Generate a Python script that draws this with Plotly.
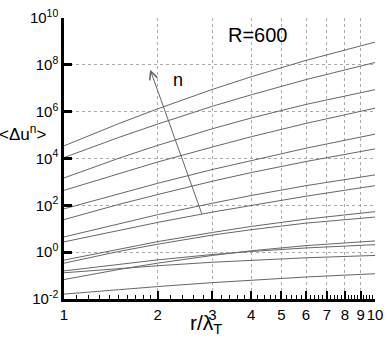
### Momentos de las diferencias de velocidad <Δu^n> frente a r/λ_T (R=600) ###

import plotly.graph_objects as go

# Valores de r/λ_T donde se leen las curvas
r_lambda = [1, 1.5, 2, 3, 4, 6, 10]

# Exponentes log10 de <Δu^n> (de arriba a abajo)
curva01 = [4.54, 5.49, 6.12, 6.95, 7.49, 8.19, 8.97]
curva02 = [4.04, 4.90, 5.47, 6.23, 6.72, 7.37, 8.10]
curva03 = [3.17, 4.01, 4.56, 5.27, 5.73, 6.31, 6.94]
curva04 = [2.64, 3.36, 3.85, 4.49, 4.93, 5.50, 6.15]
curva05 = [1.85, 2.50, 2.94, 3.53, 3.92, 4.44, 5.04]
curva06 = [1.39, 2.04, 2.46, 3.03, 3.40, 3.87, 4.41]
curva07 = [0.65, 1.22, 1.60, 2.09, 2.42, 2.84, 3.30]
curva08 = [0.44, 0.94, 1.27, 1.71, 2.00, 2.39, 2.84]
curva09 = [-0.34, 0.14, 0.45, 0.84, 1.10, 1.41, 1.73]
curva10 = [-0.47, 0.03, 0.34, 0.73, 0.96, 1.24, 1.50]
curva11 = [-1.17, -0.74, -0.47, -0.14, 0.06, 0.28, 0.48]
curva12 = [-0.80, -0.51, -0.33, -0.10, 0.03, 0.18, 0.32]
curva13 = [-0.88, -0.70, -0.58, -0.43, -0.35, -0.24, -0.14]
curva14 = [-1.79, -1.59, -1.47, -1.30, -1.20, -1.06, -0.92]

curvas = [curva01, curva02, curva03, curva04, curva05, curva06, curva07,
          curva08, curva09, curva10, curva11, curva12, curva13, curva14]

# Etiquetas de los ejes
x_ticks = [1, 2, 3, 4, 5, 6, 7, 8, 9, 10]
x_ticktext = [str(v) for v in x_ticks]
y_exps = [-2, 0, 2, 4, 6, 8, 10]
y_ticks = [10.0 ** e for e in y_exps]
y_ticktext = ["10<sup>%d</sup>" % e for e in y_exps]

# Marcas menores del eje x
x_minor = [1.1, 1.2, 1.3, 1.4, 1.5, 1.6, 1.7, 1.8, 1.9,
           2.2, 2.4, 2.6, 2.8, 3.2, 3.4, 3.6, 3.8, 4.2, 4.4, 4.6, 4.8,
           5.2, 5.4, 5.6, 5.8, 6.2, 6.4, 6.6, 6.8, 7.2, 7.4, 7.6, 7.8,
           8.2, 8.4, 8.6, 8.8, 9.2, 9.4, 9.6, 9.8]

fuente = "Liberation Sans, Arial, sans-serif"

fig = go.Figure()

for c in curvas:
    fig.add_trace(go.Scatter(x=r_lambda, y=[10.0 ** e for e in c], mode="lines",
                             line=dict(color="#666666", width=1),
                             showlegend=False, hoverinfo="skip"))

# Flecha en la dirección de n creciente (coordenadas log10)
fig.add_annotation(x=0.277, y=7.795, ax=0.445, ay=1.57, xref="x", yref="y",
                   axref="x", ayref="y", text="", showarrow=True,
                   arrowhead=5, arrowsize=1.6, arrowwidth=1, arrowcolor="#666666")
fig.add_annotation(x=0.367, y=7.37, xref="x", yref="y", text="n", showarrow=False,
                   xanchor="center", yanchor="middle",
                   font=dict(family=fuente, size=18, color="black"))
fig.add_annotation(x=0.624, y=9.26, xref="x", yref="y", text="R=600", showarrow=False,
                   xanchor="center", yanchor="middle",
                   font=dict(family=fuente, size=20, color="black"))

# Títulos de los ejes como texto libre
fig.add_annotation(x=-0.132, y=0.59, xref="paper", yref="paper",
                   text="&lt;Δu<sup>n</sup>&gt;", showarrow=False,
                   xanchor="center", yanchor="middle",
                   font=dict(family=fuente, size=17, color="black"))
fig.add_annotation(x=0.458, y=-0.09, xref="paper", yref="paper",
                   text="r/λ<sub>T</sub>", showarrow=False,
                   xanchor="center", yanchor="middle",
                   font=dict(family=fuente, size=21, color="black"))

fig.update_xaxes(type="log", range=[0, 1], tickmode="array", tickvals=x_ticks,
                 ticktext=x_ticktext, tickangle=0, ticks="inside", ticklen=8, tickwidth=2,
                 tickcolor="black", showline=True, linewidth=2.5, linecolor="black",
                 showgrid=True, gridcolor="#aaaaaa", griddash="dot", gridwidth=1,
                 zeroline=False, ticklabeloverflow="allow",
                 tickfont=dict(family=fuente, size=15, color="black"),
                 minor=dict(tickmode="array", tickvals=x_minor, ticks="inside",
                            ticklen=4, tickwidth=1, tickcolor="black", showgrid=False))
fig.update_yaxes(type="log", range=[-2, 10], tickmode="array", tickvals=y_ticks,
                 ticktext=y_ticktext, ticks="inside", ticklen=8, tickwidth=2.5,
                 tickcolor="black", showline=True, linewidth=2.5, linecolor="black",
                 showgrid=True, gridcolor="#aaaaaa", griddash="dot", gridwidth=1,
                 zeroline=False, ticklabeloverflow="allow",
                 tickfont=dict(family=fuente, size=15, color="black"))

fig.update_layout(width=390, height=341, plot_bgcolor="white", paper_bgcolor="white",
                  margin=dict(l=64, r=7, t=9, b=42))

# Quitar el margen del body para que la figura empiece en la esquina
fig.write_html("out.html", config={"displayModeBar": False},
               post_script="document.body.style.margin='0';")
